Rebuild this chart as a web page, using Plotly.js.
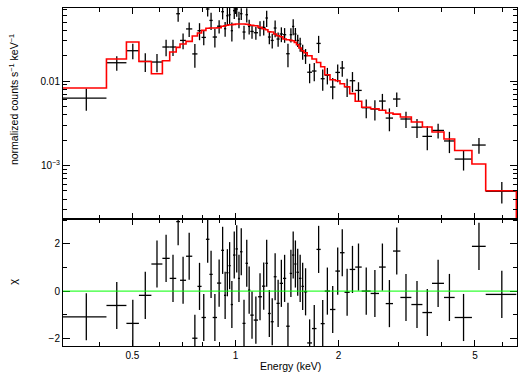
<!DOCTYPE html>
<html><head><meta charset="utf-8">
<script src="https://cdn.plot.ly/plotly-3.0.1.min.js"></script>
<style>html,body{margin:0;padding:0;background:#fff}#plot{width:525px;height:381px}</style>
</head><body><div id="plot"></div>
<script>
// Spectral bin edges (keV)
const binEdges = [0.3136, 0.4200, 0.4803, 0.5224, 0.5681, 0.6117, 0.6425, 0.6713, 0.6887, 0.7171,
  0.7477, 0.7742, 0.7960, 0.8196, 0.8392, 0.8578, 0.8832, 0.9083, 0.9257, 0.9395,
  0.9541, 0.9683, 0.9833, 1.000, 1.0163, 1.0307, 1.0481, 1.0695, 1.0876, 1.1046,
  1.1302, 1.1633, 1.1949, 1.2227, 1.2435, 1.2670, 1.2929, 1.3175, 1.3459, 1.3760,
  1.4060, 1.4394, 1.4628, 1.4846, 1.5067, 1.5315, 1.5574, 1.5838, 1.6192, 1.6722,
  1.7236, 1.7730, 1.8214, 1.8872, 1.9568, 2.0184, 2.0807, 2.1544, 2.2357, 2.3357,
  2.4803, 2.6241, 2.7446, 2.8828, 3.0296, 3.2614, 3.5129, 3.7464, 4.0607, 4.3633,
  4.9000, 5.3753, 6.6055];
// Normalized counts s^-1 keV^-1
const flux = [6.29e-3, 0.01647, 0.02286, 0.01707, 0.01679, 0.02529, 0.02529, 0.06272, 0.03027, 0.04142,
  0.02095, 0.03945, 0.03286, 0.07131, 0.05224, 0.03321, 0.04461, 0.06624, 0.04166, 0.05937,
  0.06101, 0.03945, 0.06808, 0.07131, 0.05427, 0.06272, 0.03807, 0.06101, 0.04436, 0.03870,
  0.03735, 0.04246, 0.04316, 0.05578, 0.03321, 0.03027, 0.04246, 0.03145, 0.03606, 0.03537,
  0.02106, 0.03537, 0.04436, 0.03606, 0.03027, 0.02744, 0.02242, 0.01994, 0.01271, 0.01314,
  0.02789, 0.01065, 0.01171, 8.49e-3, 0.01265, 0.01426, 8.56e-3, 0.01008, 7.74e-3, 4.83e-3,
  4.66e-3, 5.79e-3, 3.64e-3, 6.12e-3, 3.55e-3, 2.84e-3, 2.21e-3, 2.60e-3, 1.95e-3, 1.19e-3,
  1.745e-3, 4.95e-4];
const fluxErr = [1.85e-3, 3.2e-3, 4.8e-3, 4.3e-3, 4.1e-3, 5.6e-3, 5.5e-3, 12.5e-3, 6.4e-3, 8.1e-3,
  6.6e-3, 9e-3, 6.3e-3, 13.2e-3, 12e-3, 8.3e-3, 8e-3, 12.5e-3, 8.3e-3, 14e-3,
  13.5e-3, 10e-3, 13.9e-3, 13.4e-3, 12e-3, 10e-3, 7e-3, 11.8e-3, 8.9e-3, 7e-3,
  6.5e-3, 8.5e-3, 8.6e-3, 12e-3, 6e-3, 6e-3, 9.5e-3, 6e-3, 7.2e-3, 7e-3,
  6.5e-3, 6.8e-3, 9.4e-3, 6.4e-3, 5e-3, 5.2e-3, 4.5e-3, 4e-3, 3.3e-3, 3.2e-3,
  6.4e-3, 3e-3, 2.6e-3, 2.4e-3, 3e-3, 3.05e-3, 2.1e-3, 2.7e-3, 1.94e-3, 1.2e-3,
  1.25e-3, 1.25e-3, 1.1e-3, 1.2e-3, 0.78e-3, 0.72e-3, 0.7e-3, 0.52e-3, 0.55e-3, 0.32e-3,
  0.37e-3, 0.14e-3];
// Folded model
const model = [8.26e-3, 0.01823, 0.02898, 0.01707, 0.01220, 0.01740, 0.02206, 0.02501, 0.02744, 0.02946,
  0.03414, 0.03705, 0.03977, 0.04222, 0.04246, 0.04246, 0.04281, 0.04461, 0.04521, 0.04583,
  0.04646, 0.04646, 0.04685, 0.04737, 0.04737, 0.04737, 0.04737, 0.04711, 0.04646, 0.04583,
  0.04521, 0.04316, 0.04166, 0.04054, 0.03838, 0.03807, 0.03606, 0.03442, 0.03349, 0.03145,
  0.03085, 0.03027, 0.03003, 0.02867, 0.02692, 0.02460, 0.02286, 0.02164, 0.01994, 0.01823,
  0.01661, 0.01477, 0.01187, 0.01036, 0.01008, 9.29e-3, 8.56e-3, 7.1e-3, 5.76e-3, 4.89e-3,
  4.70e-3, 4.51e-3, 4.18e-3, 4.06e-3, 3.75e-3, 3.27e-3, 2.85e-3, 2.49e-3, 2.055e-3, 1.505e-3,
  1.039e-3, 5.01e-4];
// Residuals (chi)
const chi = [-1.09, -0.61, -1.37, -0.18, 1.15, 1.39, 0.54, 2.95, 0.46, 1.48,
  -2.0, 0.2, -1.12, 2.2, 0.71, -1.12, 0.34, 1.73, -0.18, 0.78,
  1.08, -0.57, 1.53, 1.79, 0.54, 1.67, -1.37, 1.18, 0.04, -1.02,
  -1.23, -0.24, 0.21, 1.18, -0.95, -1.3, 0.61, -0.52, 0.33, 0.54,
  -1.49, 0.75, 1.53, 1.15, 0.8, 0.54, 0.2, -0.03, -2.2, -1.59,
  1.77, -1.38, 0.0, -0.78, 0.85, 1.63, -0.05, 0.92, 1.02, 0.0,
  -0.1, 1.02, -0.53, 1.7, -0.27, -0.57, -0.91, 0.33, -0.27, -1.12,
  1.9, -0.14];

const xTickVals = [0.5, 1, 2, 5];
const xTickText = ['0.5', '1', '2', '5'];
const xMinorVals = [0.4, 0.6, 0.7, 0.8, 0.9, 3, 4, 6];
const yTickVals = [1e-3, 0.01];
const yTickText = ['10<sup>−3</sup>', '0.01'];
const yMinorVals = [3e-4, 4e-4, 5e-4, 6e-4, 7e-4, 8e-4, 9e-4, 2e-3, 3e-3, 4e-3, 5e-3, 6e-3, 7e-3, 8e-3, 9e-3, 0.02, 0.03, 0.04, 0.05, 0.06, 0.07];
const chiTickVals = [-2, 0, 2];
const chiTickText = ['−2', '0', '2'];
const chiMinorVals = [-1, 1, 3];

const xRange = [0.3136, 6.634];
const yRange = [2.32e-4, 0.0733];
const chiRange = [-2.33, 3.06];

const lo = binEdges.slice(0, -1), hi = binEdges.slice(1);
const centers = lo.map((l, i) => (l + hi[i]) / 2);
const errPlus = hi.map((h, i) => h - centers[i]);
const errMinus = lo.map((l, i) => centers[i] - l);

const FONT = 'Liberation Sans, Arial, sans-serif';
const barStyle = {color: '#000', thickness: 1.3, width: 0};
const noMarker = {size: 2, color: 'rgba(0,0,0,0)', line: {width: 0}};

const traces = [
  {
    x: centers, y: flux, type: 'scatter', mode: 'markers', xaxis: 'x', yaxis: 'y',
    marker: noMarker,
    error_x: Object.assign({type: 'data', symmetric: false, array: errPlus, arrayminus: errMinus}, barStyle),
    error_y: Object.assign({type: 'data', array: fluxErr}, barStyle),
    hoverinfo: 'skip'
  },
  {
    x: binEdges.concat([binEdges[binEdges.length - 1]]),
    y: model.concat([model[model.length - 1], yRange[0] / 10]),
    type: 'scatter', mode: 'lines', xaxis: 'x', yaxis: 'y',
    line: {color: '#ff0000', width: 1.6, shape: 'hv'},
    hoverinfo: 'skip'
  },
  {
    x: centers, y: chi, type: 'scatter', mode: 'markers', xaxis: 'x2', yaxis: 'y2',
    marker: noMarker,
    error_x: Object.assign({type: 'data', symmetric: false, array: errPlus, arrayminus: errMinus}, barStyle),
    error_y: Object.assign({type: 'constant', value: 1}, barStyle),
    hoverinfo: 'skip'
  }
];

const axisCommon = {
  showline: true, linecolor: '#000', linewidth: 1, mirror: 'allticks',
  ticks: 'inside', tickcolor: '#000', tickwidth: 1, ticklen: 7,
  showgrid: false, zeroline: false,
  tickfont: {family: FONT, size: 10, color: '#000'}
};

const layout = {
  width: 525, height: 381,
  margin: {l: 63, r: 8, t: 8, b: 35},
  paper_bgcolor: '#fff', plot_bgcolor: '#fff',
  showlegend: false,
  xaxis: Object.assign({}, axisCommon, {
    type: 'log', range: xRange.map(Math.log10), anchor: 'y', domain: [0, 1],
    tickmode: 'array', tickvals: xTickVals, ticktext: xTickText, showticklabels: false,
    ticklen: 6,
    minor: {tickmode: 'array', tickvals: xMinorVals, ticks: 'inside', ticklen: 4, tickcolor: '#000', tickwidth: 1}
  }),
  xaxis2: Object.assign({}, axisCommon, {
    type: 'log', range: xRange.map(Math.log10), anchor: 'y2', domain: [0, 1],
    tickmode: 'array', tickvals: xTickVals, ticktext: xTickText,
    ticklen: 6,
    minor: {tickmode: 'array', tickvals: xMinorVals, ticks: 'inside', ticklen: 4, tickcolor: '#000', tickwidth: 1}
  }),
  yaxis: Object.assign({}, axisCommon, {
    type: 'log', range: yRange.map(Math.log10), anchor: 'x', domain: [0.3757, 1],
    tickmode: 'array', tickvals: yTickVals, ticktext: yTickText,
    minor: {tickmode: 'array', tickvals: yMinorVals, ticks: 'inside', ticklen: 4, tickcolor: '#000', tickwidth: 1}
  }),
  yaxis2: Object.assign({}, axisCommon, {
    range: chiRange, anchor: 'x2', domain: [0, 0.3757],
    tickmode: 'array', tickvals: chiTickVals, ticktext: chiTickText,
    minor: {tickmode: 'array', tickvals: chiMinorVals, ticks: 'inside', ticklen: 4, tickcolor: '#000', tickwidth: 1}
  }),
  shapes: [{
    type: 'line', xref: 'paper', x0: 0, x1: 1, yref: 'y2', y0: 0, y1: 0,
    line: {color: '#00ff00', width: 1}, layer: 'above'
  }],
  annotations: [
    {text: 'normalized counts s<sup>−1</sup> keV<sup>−1</sup>', xref: 'paper', yref: 'paper',
     x: -0.110, y: 0.7278, xanchor: 'center', yanchor: 'middle', textangle: -90, showarrow: false,
     font: {family: FONT, size: 10.5, color: '#000'}},
    {text: 'χ', xref: 'paper', yref: 'paper',
     x: -0.110, y: 0.190, xanchor: 'center', yanchor: 'middle', textangle: -90, showarrow: false,
     font: {family: FONT, size: 11, color: '#000'}},
    {text: 'Energy (keV)', xref: 'paper', yref: 'paper',
     x: 0.5, y: -0.059, xanchor: 'center', yanchor: 'middle', showarrow: false,
     font: {family: FONT, size: 10.5, color: '#000'}}
  ]
};

Plotly.newPlot('plot', traces, layout, {staticPlot: true, displayModeBar: false});
</script>
</body></html>
